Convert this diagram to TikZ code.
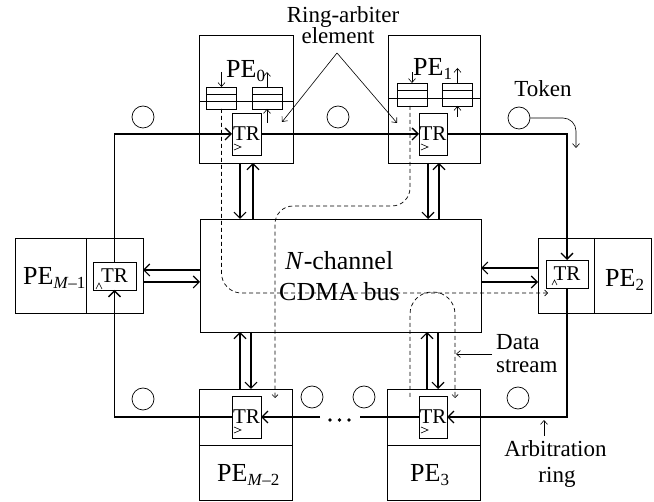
\documentclass[tikz,border=0pt]{standalone}
\usepackage{fontspec}
\setmainfont{Liberation Serif}
\usetikzlibrary{arrows.meta,calc}
\newcommand\psub[1]{\raisebox{-4pt}{\fontsize{17}{17}\selectfont #1}}
\begin{document}
\begin{tikzpicture}[x=1pt,y=-1pt,
  box/.style={draw,line width=0.8pt,inner sep=0pt,outer sep=0pt},
  trbox/.style={box,font=\fontsize{21}{21}\selectfont},
  fifo/.style={box,line width=0.7pt,minimum width=30pt,minimum height=22pt},
  token/.style={draw,circle,line width=0.7pt,minimum size=22pt,inner sep=0pt},
  ring/.style={line width=1.3pt,-{Straight Barb[length=6pt,width=12pt]}},
  ringline/.style={line width=1.3pt},
  bus arrow/.style={line width=1.1pt,-{Straight Barb[length=6pt,width=12pt]}},
  thin arrow/.style={line width=0.6pt,-{Straight Barb[length=4pt,width=7pt]}},
  data/.style={line width=0.7pt,dash pattern=on 4pt off 3pt,-{Straight Barb[length=3pt,width=6pt]}},
  lbl/.style={inner sep=0pt,font=\fontsize{23}{23}\selectfont},
  pelbl/.style={inner sep=0pt,font=\fontsize{26}{26}\selectfont,anchor=base west},
  clk/.style={line width=0.6pt}]
\useasboundingbox (0,0) rectangle (654,502);

% PE boxes and bus
\node[box,minimum width=94pt,minimum height=128pt] (pe0) at (246,99) {};
\node[box,minimum width=92pt,minimum height=128pt] (pe1) at (434,99) {};
\node[box,minimum width=128pt,minimum height=75pt] (pem1) at (79,275.5) {};
\node[box,minimum width=113pt,minimum height=75pt] (pe2) at (594.5,275.5) {};
\node[box,minimum width=93pt,minimum height=111pt] (pem2) at (245.5,444.5) {};
\node[box,minimum width=93pt,minimum height=111pt] (pe3) at (433.5,444.5) {};
\node[box,minimum width=281pt,minimum height=113pt] (bus) at (340.5,275.5) {};

% dividers
\draw[line width=0.8pt] (pe0.west |- 0,101) -- (pe0.east |- 0,101);
\draw[line width=0.8pt] (pe1.west |- 0,98) -- (pe1.east |- 0,98);
\draw[line width=0.8pt] (pem1.north -| 86,0) -- (pem1.south -| 86,0);
\draw[line width=0.8pt] (pe2.north -| 594,0) -- (pe2.south -| 594,0);
\draw[line width=0.8pt] (pem2.west |- 0,445) -- (pem2.east |- 0,445);
\draw[line width=0.8pt] (pe3.west |- 0,445) -- (pe3.east |- 0,445);

% PE labels
\node[pelbl] (l0) at (226,78) {PE\psub{0}};
\node[pelbl] (l1) at (413,76) {PE\psub{1}};
\node[pelbl] (lm1) at (23,285) {PE\psub{\textit{M}–1}};
\node[pelbl] (l2) at (605,287) {PE\psub{2}};
\node[pelbl] (lm2) at (217,482) {PE\psub{\textit{M}–2}};
\node[pelbl] (l3) at (410,482) {PE\psub{3}};

% FIFOs
\node[fifo] (f0l) at (221.5,98) {};
\node[fifo] (f0r) at (267,98) {};
\node[fifo,minimum height=23pt] (f1l) at (412,94.5) {};
\node[fifo,minimum height=23pt] (f1r) at (457.5,94.5) {};
\foreach \f in {f0l,f0r,f1l,f1r}{
  \draw[line width=0.7pt] ($(\f.north west)!1/3!(\f.south west)$) -- ($(\f.north east)!1/3!(\f.south east)$);
  \draw[line width=0.7pt] ($(\f.north west)!2/3!(\f.south west)$) -- ($(\f.north east)!2/3!(\f.south east)$);
}
\draw[thin arrow] ($(f0l.north)+(0,-15)$) -- (f0l.north);
\draw[thin arrow] (f0r.north) -- ++(0,-15);
\draw[thin arrow] ($(f0r.south)+(0,14)$) -- (f0r.south);
\draw[thin arrow] ($(f1l.north)+(0,-11)$) -- (f1l.north);
\draw[thin arrow] (f1r.north) -- ++(0,-15);
\draw[thin arrow] ($(f1r.south)+(0,11)$) -- (f1r.south);

% TR elements
\node[trbox,minimum width=29pt,minimum height=42pt] (tr0) at (246.5,134) {TR};
\node[trbox,minimum width=28pt,minimum height=42pt] (tr1) at (433,134) {TR};
\node[trbox,minimum width=43pt,minimum height=28pt] (trm1) at (114.5,276) {TR};
\node[trbox,minimum width=42pt,minimum height=28pt] (tr2) at (567,274) {TR};
\node[trbox,minimum width=29pt,minimum height=42pt] (trm2) at (246.5,417) {TR};
\node[trbox,minimum width=28pt,minimum height=42pt] (tr3) at (433,417) {TR};
\foreach \t in {tr0,tr1,trm2,tr3}{
  \draw[clk] ($(\t.south west)+(2,-11)$) -- ++(7,3) -- ++(-7,3);
}
\draw[clk] ($(trm1.south west)+(3,-1)$) -- ++(3,-6) -- ++(3,6);
\draw[clk] ($(tr2.south west)+(6,-3)$) -- ++(2.5,-5) -- ++(2.5,5);

% arbitration ring
\draw[ring] (trm1.north) |- (tr0.west);
\draw[ring] (tr0.east) -- (tr1.west);
\draw[ring] (tr1.east) -| (tr2.north);
\draw[ring] (tr2.south) |- (tr3.east);
\coordinate (dr) at (360,417);
\coordinate (dl) at (320,417);
\draw[ringline] (tr3.west) -- (dr);
\draw[ring] (dl) -- (trm2.east);
\draw[ring] (trm2.west) -| (trm1.south);
\foreach \x in {330,339.5,349} \fill (\x,420) circle (1.8pt);

% bus connections
\draw[bus arrow] (bus.west |- 0,270) -- (pem1.east |- 0,270);
\draw[bus arrow] (pem1.east |- 0,282) -- (bus.west |- 0,282);
\draw[bus arrow] (pe2.west |- 0,268) -- (bus.east |- 0,268);
\draw[bus arrow] (bus.east |- 0,282) -- (pe2.west |- 0,282);
\draw[bus arrow] (pe0.south -| 240,0) -- (bus.north -| 240,0);
\draw[bus arrow] (bus.north -| 253,0) -- (pe0.south -| 253,0);
\draw[bus arrow] (pe1.south -| 428,0) -- (bus.north -| 428,0);
\draw[bus arrow] (bus.north -| 439,0) -- (pe1.south -| 439,0);
\draw[bus arrow] (pem2.north -| 240,0) -- (bus.south -| 240,0);
\draw[bus arrow] (bus.south -| 251,0) -- (pem2.north -| 251,0);
\draw[bus arrow] (pe3.north -| 427,0) -- (bus.south -| 427,0);
\draw[bus arrow] (bus.south -| 438,0) -- (pe3.north -| 438,0);

% bus text
\node[inner sep=0pt,font=\fontsize{26}{26}\selectfont,anchor=base west] (bt1) at (285,270) {\textit{N}-channel};
\node[inner sep=0pt,font=\fontsize{26}{26}\selectfont,anchor=base west] (bt2) at (279,301) {CDMA bus};

% tokens
\node[token] (c1) at (143,117) {};
\node[token] (c2) at (338,117) {};
\node[token] (tok) at (519,118) {};
\node[token] (c4) at (143,399) {};
\node[token] (c5) at (312,397) {};
\node[token] (c6) at (364,397) {};
\node[token] (c7) at (518,398) {};
\node[lbl,anchor=base] (toklbl) at (543,97) {Token};
\coordinate (tokend) at (576,148);
\draw[thin arrow,rounded corners=13pt] (tok.east) -| (tokend);

% ring-arbiter element label
\node[lbl,anchor=base] (ra1) at (343,23) {Ring-arbiter};
\node[lbl,anchor=base] (ra2) at (338,44) {element};
\coordinate (apex) at (337,53);
\coordinate (raL) at (282,122);
\coordinate (raR) at (397,123);
\draw[thin arrow] (apex) -- (raL);
\draw[thin arrow] (apex) -- (raR);

% data streams
\coordinate (d1e) at (548,293);
\draw[data,rounded corners=20pt] (f0l.south) |- (d1e);
\coordinate (d2c) at (275,206);
\coordinate (d2e) at (275,398);
\draw[data,rounded corners=18pt] ($(f1l.south)+(-2,0)$) |- (d2c) -- (d2e);
\coordinate (d3s) at (410,397);
\coordinate (d3e) at (455,398);
\draw[data,rounded corners=22pt] (d3s) -- (410,292) -- (455,292) -- (d3e);

\node[lbl,anchor=base west] (ds1) at (496,350) {Data};
\node[lbl,anchor=base west] (ds2) at (496,373) {stream};
\coordinate (dsa) at (456,354);
\coordinate (dsb) at (492,354);
\draw[thin arrow] (dsb) -- (dsa);

\node[lbl,anchor=base] (ar1) at (555.5,457) {Arbitration};
\node[lbl,anchor=base] (ar2) at (557,483) {ring};
\coordinate (ara) at (544,436);
\coordinate (arb) at (544,420);
\draw[thin arrow] (ara) -- (arb);
\end{tikzpicture}
\end{document}
